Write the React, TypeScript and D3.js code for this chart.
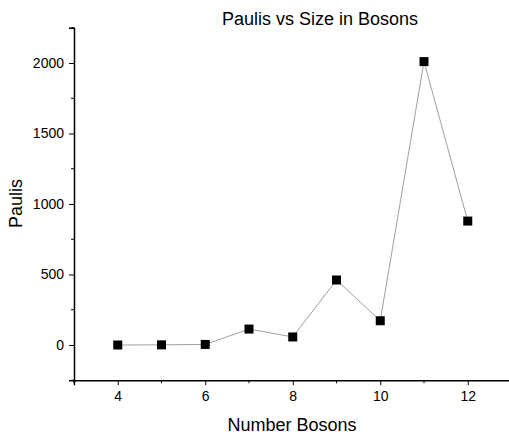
import { useEffect, useRef } from 'react'
import * as d3 from 'd3'

const bosons = [4, 5, 6, 7, 8, 9, 10, 11, 12]
const paulis = [0, 1, 4, 113, 57, 461, 172, 2010, 879]
const xTicks = [4, 6, 8, 10, 12]
const xMinor = [3, 5, 7, 9, 11, 13]
const yTicks = [0, 500, 1000, 1500, 2000]
const yMinor = [-250, 250, 750, 1250, 1750, 2250]

const App = () => {
  const svgRef = useRef<SVGSVGElement>(null)

  useEffect(() => {
    if (!svgRef.current) return
    const svg = d3.select(svgRef.current)
    svg.selectAll('*').remove()

    const font = 'Arial, "Liberation Sans", sans-serif'
    const x = d3.scaleLinear().domain([3, 13]).range([74, 511.5])
    const y = d3.scaleLinear().domain([-250, 2250]).range([380.25, 27.75])

    // axes
    const xAxis = svg.append('g').attr('transform', `translate(0,${y(-250)})`)
    xAxis.call(d3.axisBottom(x).tickValues(xTicks).tickSize(5).tickPadding(6).tickFormat(d3.format('d')))
    xAxis.append('g').selectAll('line').data(xMinor).enter().append('line')
      .attr('x1', d => x(d)).attr('x2', d => x(d)).attr('y1', 0).attr('y2', 3)
      .attr('stroke', '#000')

    const yAxis = svg.append('g').attr('transform', `translate(${x(3)},0)`)
    yAxis.call(d3.axisLeft(y).tickValues(yTicks).tickSize(5).tickPadding(5).tickFormat(d3.format('d')))
    yAxis.append('g').selectAll('line').data(yMinor).enter().append('line')
      .attr('y1', d => y(d)).attr('y2', d => y(d)).attr('x1', 0).attr('x2', -3)
      .attr('stroke', '#000')

    svg.selectAll('.domain').attr('stroke', '#000').attr('stroke-width', 1.5)
    svg.selectAll('.tick text').attr('font-family', font).attr('font-size', 14).attr('fill', '#000')
    svg.selectAll('.tick line').attr('stroke', '#000')

    // line + markers
    const pts = bosons.map((b, i) => [b, paulis[i]] as [number, number])
    svg.append('path')
      .datum(pts)
      .attr('fill', 'none')
      .attr('stroke', '#a0a0a0')
      .attr('stroke-width', 1)
      .attr('d', d3.line<[number, number]>().x(d => x(d[0])).y(d => y(d[1])))

    svg.selectAll('.marker').data(pts).enter().append('rect')
      .attr('class', 'marker')
      .attr('x', d => x(d[0]) - 4.5)
      .attr('y', d => y(d[1]) - 4.5)
      .attr('width', 9)
      .attr('height', 9)
      .attr('fill', '#000')

    // titles
    svg.append('text')
      .attr('x', 320).attr('y', 25)
      .attr('text-anchor', 'middle')
      .attr('font-family', font).attr('font-size', 18)
      .text('Paulis vs Size in Bosons')

    svg.append('text')
      .attr('x', 292).attr('y', 431)
      .attr('text-anchor', 'middle')
      .attr('font-family', font).attr('font-size', 18)
      .text('Number Bosons')

    svg.append('text')
      .attr('transform', `translate(22,${(27 + 380) / 2}) rotate(-90)`)
      .attr('text-anchor', 'middle')
      .attr('font-family', font).attr('font-size', 18)
      .text('Paulis')
  }, [])

  return (
    <svg
      ref={svgRef}
      width={509}
      height={435}
      style={{ position: 'absolute', left: 0, top: 0, background: '#fff' }}
    />
  )
}

export default App
